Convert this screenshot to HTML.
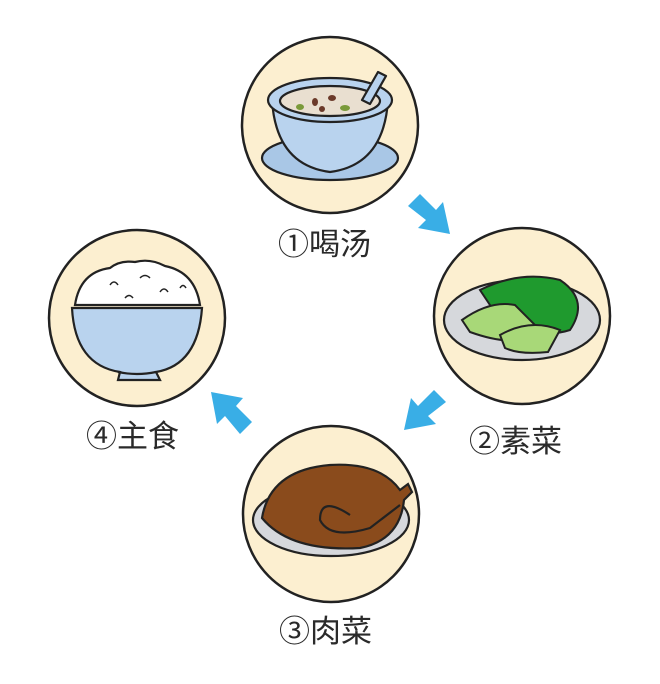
<!DOCTYPE html>
<html><head><meta charset="utf-8"><style>
html,body{margin:0;padding:0;background:#fff}
svg{display:block}
text{font-family:"Liberation Sans","Noto Sans CJK SC",sans-serif;font-size:31px;fill:#2a2a2a}
</style></head><body>
<svg width="660" height="684" viewBox="0 0 660 684" xmlns="http://www.w3.org/2000/svg">
<g stroke="#222" stroke-width="2.5" fill="#fcefd0">
<circle cx="330" cy="125" r="88"/>
<circle cx="522" cy="316" r="88"/>
<circle cx="331" cy="514" r="88"/>
<circle cx="137" cy="318" r="88"/>
</g>
<!-- soup -->
<g stroke="#222" stroke-width="2.2" stroke-linejoin="round">
<ellipse cx="330" cy="158" rx="68" ry="22" fill="#a9c7e6"/>
<path d="M272 100 Q276 165 330 172 Q384 165 388 100 Z" fill="#b9d3ee"/>
<ellipse cx="330" cy="100" rx="62" ry="22" fill="#b9d3ee"/>
<ellipse cx="330" cy="101" rx="50" ry="15" fill="#e9dfd0"/>
<path d="M362 100 L378 72 L386 76 L370 104 Z" fill="#b9d3ee"/>
</g>
<g fill="#6b3a2a"><ellipse cx="315" cy="102" rx="3" ry="4"/><ellipse cx="332" cy="98" rx="4" ry="3"/><ellipse cx="322" cy="109" rx="3" ry="3"/></g>
<g fill="#7a9a3a"><ellipse cx="300" cy="107" rx="4" ry="3"/><ellipse cx="345" cy="108" rx="5" ry="3"/></g>
<!-- greens -->
<ellipse cx="522" cy="320" rx="78" ry="40" fill="#d6d8dc" stroke="#222" stroke-width="2.2"/>
<g stroke="#222" stroke-width="2" fill="#1f9a2e">
<path d="M480 290 Q520 270 560 280 Q590 300 570 330 Q540 340 500 320 Z"/>
<path d="M462 320 Q490 300 515 305 L540 330 Q520 350 470 332 Z" fill="#a8d878"/>
<path d="M500 335 Q530 318 560 330 L548 352 Q520 355 505 348 Z" fill="#a8d878"/>
</g>
<!-- chicken -->
<g stroke="#222" stroke-width="2.2">
<ellipse cx="331" cy="520" rx="78" ry="36" fill="#d6d8dc"/>
<path d="M262 518 Q270 470 330 465 Q380 462 400 490 L408 484 L412 492 L404 500 Q400 540 360 548 Q290 552 262 518 Z" fill="#8a4b1c"/>
<path d="M350 515 Q320 495 320 520 Q330 540 370 528 L400 505" fill="none"/>
</g>
<!-- rice -->
<g stroke="#222" stroke-width="2.2">
<path d="M75 305 Q80 272 110 268 Q120 260 135 262 Q150 258 165 266 Q195 272 200 305 Z" fill="#fff"/>
<path d="M72 308 Q75 365 120 372 L118 380 L160 380 L156 372 Q198 365 202 308 Z" fill="#b9d3ee"/>
<path d="M118 372 Q137 376 156 372" fill="none"/>
</g>
<g stroke="#222" stroke-width="1.5" fill="none">
<path d="M110 285 q4 -6 8 0"/><path d="M140 278 q5 -5 10 0"/><path d="M160 292 q4 -6 8 0"/><path d="M125 298 q4 -5 8 0"/><path d="M180 288 q3 -5 6 0"/>
</g>
<!-- arrows -->
<g fill="#39aee6">
<polygon points="408,206 420,194 436,210 443,202 450,234 418,228 426,220"/>
<polygon points="446,402 434,390 418,406 411,398 404,430 436,424 428,416"/>
<polygon points="240,434 252,422 236,406 243,398 211,392 217,424 225,416"/>
</g>
<text x="278" y="255">①喝汤</text>
<text x="469" y="452">②素菜</text>
<text x="279" y="642">③肉菜</text>
<text x="86" y="447">④主食</text>
</svg>
</body></html>
